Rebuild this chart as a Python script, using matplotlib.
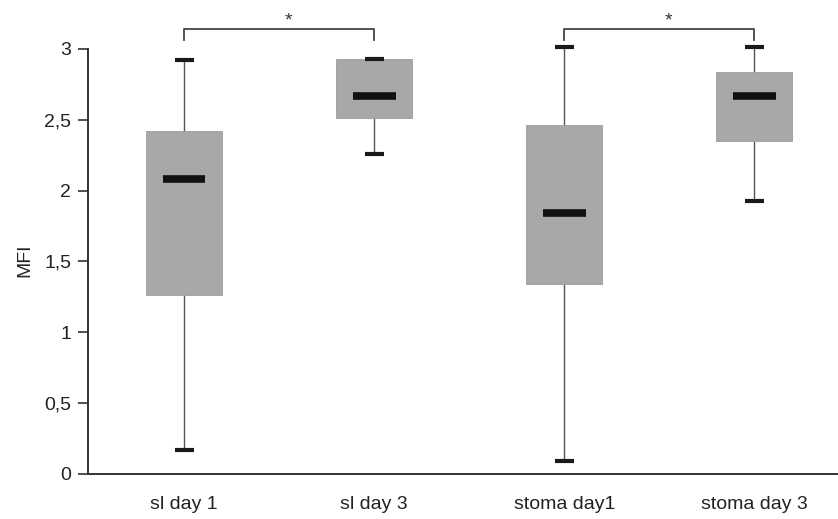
import matplotlib.pyplot as plt
import numpy as np

plt.rcParams['font.family'] = ['Liberation Sans', 'DejaVu Sans']

groups = ['sl day 1', 'sl day 3', 'stoma day1', 'stoma day 3']
lower = [0.17, 2.26, 0.09, 1.93]      # whisker minimum
q1 = [1.26, 2.51, 1.34, 2.35]
median = [2.08, 2.67, 1.84, 2.67]
q3 = [2.42, 2.93, 2.46, 2.84]
upper = [2.92, 2.93, 3.01, 3.01]      # whisker maximum
pairs = [(0, 1), (2, 3)]              # significant comparisons
yticks = [0, 0.5, 1, 1.5, 2, 2.5, 3]
ytick_labels = ['0', '0,5', '1', '1,5', '2', '2,5', '3']

pos = np.arange(1, len(groups) + 1)

fig = plt.figure(figsize=(8.38, 5.19), dpi=100)
ax = fig.add_axes([88 / 838, 45 / 519, 1 - 88 / 838, 474 / 519])

# whiskers from box edges to caps
ax.vlines(pos, lower, q1, color='#555555', lw=1.0, zorder=1)
ax.vlines(pos, q3, upper, color='#555555', lw=1.0, zorder=1)

# boxes
ax.bar(pos, np.array(q3) - np.array(q1), bottom=q1, width=0.4,
       color='#a8a8a8', edgecolor='#9c9c9c', lw=0.6, zorder=2)

# caps and medians
ax.hlines(lower, pos - 0.05, pos + 0.05, color='#1a1a1a', lw=3, capstyle='butt', zorder=3)
ax.hlines(upper, pos - 0.05, pos + 0.05, color='#1a1a1a', lw=3, capstyle='butt', zorder=3)
ax.hlines(median, pos - 0.113, pos + 0.113, color='#111111', lw=5.5, capstyle='butt', zorder=4)

# significance brackets
for a, b in pairs:
    xa, xb = pos[a], pos[b]
    ax.plot([xa, xa, xb, xb], [3.06, 3.14, 3.14, 3.06], color='#444444',
            lw=1.3, clip_on=False)
    ax.text((xa + xb) / 2 + 0.05, 3.2, '*', ha='center', va='center',
            fontsize=14, color='#333333')

ax.set_xlim(0.495, 4.44)
ax.set_ylim(0, 3.345)
ax.set_xticks(pos)
ax.set_xticklabels(groups, fontsize=14, color='#222222')
ax.tick_params(axis='x', length=0, pad=16)
ax.set_yticks(yticks)
ax.set_yticklabels(ytick_labels, fontsize=14, color='#222222')
ax.tick_params(axis='y', length=7, width=1.2, color='#333333', pad=5)

ax.spines['top'].set_visible(False)
ax.spines['right'].set_visible(False)
ax.spines['left'].set_bounds(0, 3)
for s in ('left', 'bottom'):
    ax.spines[s].set_linewidth(1.4)
    ax.spines[s].set_color('#333333')

ax.set_ylabel('MFI', fontsize=14, color='#222222')
ax.yaxis.set_label_coords(-0.073, 0.45)

fig.savefig('out.png', dpi=100)
